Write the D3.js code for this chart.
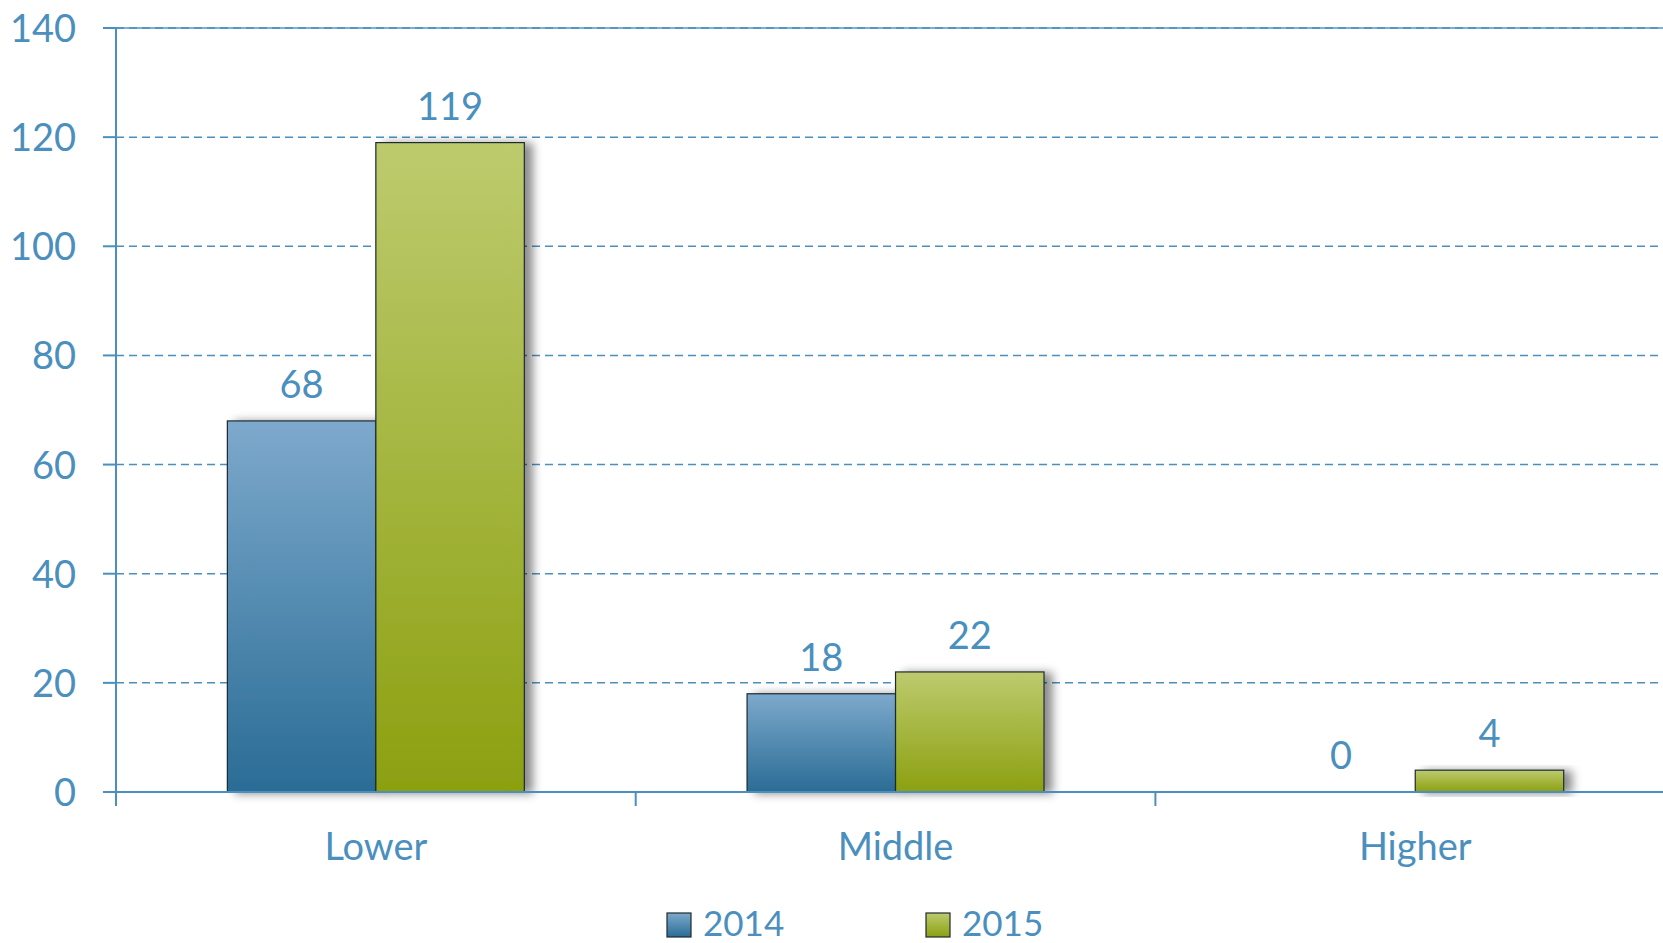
<!DOCTYPE html>
<html>
<head>
<meta charset="utf-8">
<script src="https://cdn.jsdelivr.net/npm/d3@7"></script>
<style>
  body { margin: 0; background: #fff; }
  svg { display: block; font-family: Lato, "Open Sans", sans-serif; }
</style>
</head>
<body>
<div id="chart"></div>
<script>
// data
const categories = ["Lower", "Middle", "Higher"];
const seriesNames = ["2014", "2015"];
const values2014 = [68, 18, 0];
const values2015 = [119, 22, 4];
const yTicks = [0, 20, 40, 60, 80, 100, 120, 140];

const width = 1663, height = 943;
const plotLeft = 116, plotTop = 28, plotBottom = 792;
const step = 519.7;
const textColor = "#4A8FBD";
const lineColor = "#4A8FBD";

const svg = d3.select("#chart").append("svg")
    .attr("width", width)
    .attr("height", height);

const defs = svg.append("defs");
const grads = [
    { id: "g2014", top: "#7DA9CC", bottom: "#2A6C95" },
    { id: "g2015", top: "#BDCB6E", bottom: "#8CA010" }
];
grads.forEach(g => {
    const lg = defs.append("linearGradient").attr("id", g.id)
        .attr("x1", 0).attr("y1", 0).attr("x2", 0).attr("y2", 1);
    lg.append("stop").attr("offset", "0%").attr("stop-color", g.top);
    lg.append("stop").attr("offset", "100%").attr("stop-color", g.bottom);
});
const shadow = defs.append("filter").attr("id", "shadow")
    .attr("x", "-20%").attr("y", "-20%").attr("width", "160%").attr("height", "140%");
shadow.append("feDropShadow")
    .attr("dx", 8).attr("dy", 1).attr("stdDeviation", 5)
    .attr("flood-color", "#000").attr("flood-opacity", 0.45);

const x0 = d3.scaleBand()
    .domain(categories)
    .range([plotLeft, plotLeft + step * categories.length])
    .paddingInner(0.4286)
    .paddingOuter(0.2143);

const x1 = d3.scaleBand()
    .domain(seriesNames)
    .range([0, x0.bandwidth()]);

const y = d3.scaleLinear()
    .domain([0, 140])
    .range([plotBottom, plotTop]);

// grid lines
svg.append("line")
    .attr("x1", plotLeft).attr("x2", width)
    .attr("y1", y(140)).attr("y2", y(140))
    .attr("stroke", "#7FB0D2").attr("stroke-width", 2);

svg.selectAll(".grid")
    .data(yTicks.filter(d => d > 0))
    .enter()
    .append("line")
    .attr("class", "grid")
    .attr("x1", plotLeft).attr("x2", width)
    .attr("y1", d => y(d)).attr("y2", d => y(d))
    .attr("stroke", lineColor)
    .attr("stroke-width", 1.5)
    .attr("stroke-dasharray", "8,5");

// bars
const data = categories.map((c, i) => ({
    cat: c,
    vals: [
        { s: "2014", v: values2014[i] },
        { s: "2015", v: values2015[i] }
    ]
}));

const groups = svg.selectAll(".cat")
    .data(data)
    .enter()
    .append("g")
    .attr("class", "cat")
    .attr("transform", d => `translate(${x0(d.cat)},0)`);

groups.selectAll("rect")
    .data(d => d.vals.filter(v => v.v > 0))
    .enter()
    .append("rect")
    .attr("x", d => x1(d.s))
    .attr("y", d => y(d.v))
    .attr("width", x1.bandwidth())
    .attr("height", d => y(0) - y(d.v))
    .attr("fill", d => d.s === "2014" ? "url(#g2014)" : "url(#g2015)")
    .attr("stroke", "#1E2A30")
    .attr("stroke-width", 1.2)
    .attr("filter", "url(#shadow)");

groups.selectAll(".label")
    .data(d => d.vals)
    .enter()
    .append("text")
    .attr("class", "label")
    .attr("x", d => x1(d.s) + x1.bandwidth() / 2)
    .attr("y", d => y(d.v) - 23)
    .attr("text-anchor", "middle")
    .attr("fill", textColor)
    .style("font-size", "38px")
    .text(d => d.v);

// axes
svg.append("line")
    .attr("x1", plotLeft).attr("x2", plotLeft)
    .attr("y1", y(140)).attr("y2", plotBottom + 14)
    .attr("stroke", lineColor).attr("stroke-width", 2);

svg.append("line")
    .attr("x1", plotLeft - 13).attr("x2", width)
    .attr("y1", plotBottom).attr("y2", plotBottom)
    .attr("stroke", lineColor).attr("stroke-width", 2);

svg.selectAll(".ytick")
    .data(yTicks)
    .enter()
    .append("line")
    .attr("class", "ytick")
    .attr("x1", plotLeft - 13).attr("x2", plotLeft)
    .attr("y1", d => y(d)).attr("y2", d => y(d))
    .attr("stroke", lineColor).attr("stroke-width", 2);

svg.selectAll(".ylabel")
    .data(yTicks)
    .enter()
    .append("text")
    .attr("class", "ylabel")
    .attr("x", 76)
    .attr("y", d => y(d) + 14)
    .attr("text-anchor", "end")
    .attr("fill", textColor)
    .style("font-size", "38px")
    .text(d => d);

svg.selectAll(".xtick")
    .data(d3.range(categories.length + 1))
    .enter()
    .append("line")
    .attr("class", "xtick")
    .attr("x1", d => plotLeft + d * x0.step())
    .attr("x2", d => plotLeft + d * x0.step())
    .attr("y1", plotBottom).attr("y2", plotBottom + 14)
    .attr("stroke", lineColor).attr("stroke-width", 2);

svg.selectAll(".xlabel")
    .data(categories)
    .enter()
    .append("text")
    .attr("class", "xlabel")
    .attr("x", d => x0(d) + x0.bandwidth() / 2)
    .attr("y", 860)
    .attr("text-anchor", "middle")
    .attr("fill", textColor)
    .style("font-size", "38px")
    .text(d => d);

// legend
const legendX = [667, 926];
const legend = svg.selectAll(".legend")
    .data(seriesNames)
    .enter()
    .append("g")
    .attr("class", "legend")
    .attr("transform", (d, i) => `translate(${legendX[i]},913)`);

legend.append("rect")
    .attr("width", 24).attr("height", 24)
    .attr("fill", (d, i) => i === 0 ? "url(#g2014)" : "url(#g2015)")
    .attr("stroke", "#1E2A30").attr("stroke-width", 1.2);

legend.append("text")
    .attr("x", 36)
    .attr("y", 23)
    .attr("fill", textColor)
    .style("font-size", "35px")
    .text(d => d);
</script>
</body>
</html>
